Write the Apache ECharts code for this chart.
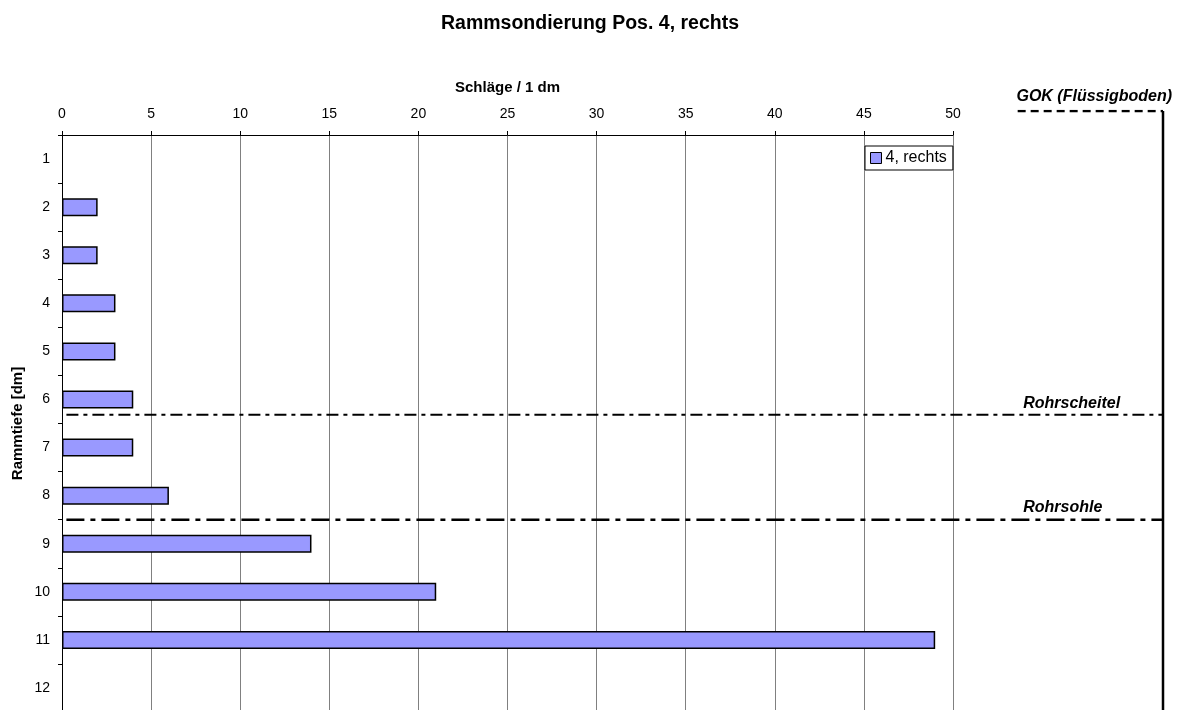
<!DOCTYPE html>
<html>
<head>
<meta charset="utf-8">
<script src="https://cdn.jsdelivr.net/npm/echarts@6/dist/echarts.min.js"></script>
<style>
  html, body { margin: 0; padding: 0; background: #fff; }
  #chart { width: 1186px; height: 710px; }
</style>
</head>
<body>
<div id="chart"></div>
<script>
  // Rammtiefe categories and blow counts per dm
  const depths = ['1', '2', '3', '4', '5', '6', '7', '8', '9', '10', '11', '12'];
  const blows = [null, 2, 2, 3, 3, 4, 4, 6, 14, 21, 49, null];

  // reference levels (depth below GOK, dm)
  const gokDepth = 0;
  const scheitelDepth = 6.32;
  const sohleDepth = 8.5;
  const depthMax = 12.5;

  const font = '"Liberation Sans", Arial, sans-serif';

  const levelLabel = (text, align, distance) => ({
    show: true, formatter: text, position: 'top', align: align,
    distance: distance, fontSize: 16, fontWeight: 'bold', fontStyle: 'italic',
    fontFamily: font, color: '#000'
  });

  const chart = echarts.init(document.getElementById('chart'));
  chart.setOption({
    animation: false,
    textStyle: { fontFamily: font, color: '#000' },
    title: {
      text: 'Rammsondierung Pos. 4, rechts',
      left: 436,
      top: 9,
      textStyle: { fontSize: 19.5, fontWeight: 'bold', fontFamily: font, color: '#000' }
    },
    legend: {
      left: 865,
      top: 146,
      padding: [4, 6, 4, 5],
      backgroundColor: '#fff',
      borderColor: '#000',
      borderWidth: 1,
      borderRadius: 0,
      icon: 'rect',
      itemWidth: 11,
      itemHeight: 11,
      itemGap: 4,
      data: ['4, rechts'],
      itemStyle: { borderColor: '#000', borderWidth: 1 },
      textStyle: { fontSize: 16, fontFamily: font, color: '#000', padding: [0, 0, 0, -1] }
    },
    grid: [
      { left: 62, top: 135, width: 891, bottom: -2, outerBoundsMode: 'none' },
      { left: 62, top: 111, right: 23, bottom: -2, outerBoundsMode: 'none' }
    ],
    xAxis: [
      {
        type: 'value',
        gridIndex: 0,
        position: 'top',
        min: 0,
        max: 50,
        interval: 5,
        name: 'Schläge / 1 dm',
        nameLocation: 'middle',
        nameGap: 40,
        nameTextStyle: { fontWeight: 'bold', fontSize: 15, fontFamily: font, color: '#000' },
        axisLine: { show: true, lineStyle: { color: '#000', width: 1 } },
        axisTick: { show: true, length: 4, lineStyle: { color: '#000' } },
        axisLabel: { fontSize: 14, margin: 14, color: '#000', fontFamily: font },
        splitLine: { show: true, lineStyle: { color: '#808080', width: 1 } }
      },
      {
        type: 'value',
        gridIndex: 1,
        min: 0,
        max: 1,
        show: false
      }
    ],
    yAxis: [
      {
        type: 'category',
        gridIndex: 0,
        inverse: true,
        data: depths,
        name: 'Rammtiefe [dm]',
        nameLocation: 'middle',
        nameGap: 37,
        nameRotate: 90,
        nameMoveOverlap: false,
        nameTextStyle: { fontWeight: 'bold', fontSize: 15, fontFamily: font, color: '#000' },
        axisLine: { show: true, lineStyle: { color: '#000', width: 1 } },
        axisTick: { show: true, length: 4, lineStyle: { color: '#000' } },
        axisLabel: { fontSize: 14, margin: 12, color: '#000', fontFamily: font },
        splitLine: { show: false }
      },
      {
        type: 'value',
        gridIndex: 1,
        inverse: true,
        min: 0,
        max: depthMax,
        show: false
      }
    ],
    series: [
      {
        name: '4, rechts',
        type: 'bar',
        xAxisIndex: 0,
        yAxisIndex: 0,
        data: blows,
        barWidth: 18,
        itemStyle: { color: '#9999FF', borderColor: '#000', borderWidth: 1.5 }
      },
      {
        name: 'Rohrscheitel',
        type: 'line',
        xAxisIndex: 1,
        yAxisIndex: 1,
        silent: true,
        symbol: 'circle',
        symbolSize: 0,
        showSymbol: true,
        lineStyle: { color: '#000', width: 2, type: [12, 5, 4, 5] },
        data: [
          [0.004, scheitelDepth],
          { value: [0.873, scheitelDepth], label: levelLabel('Rohrscheitel', 'left', 3) },
          [1, scheitelDepth]
        ]
      },
      {
        name: 'Rohrsohle',
        type: 'line',
        xAxisIndex: 1,
        yAxisIndex: 1,
        silent: true,
        symbol: 'circle',
        symbolSize: 0,
        showSymbol: true,
        lineStyle: { color: '#000', width: 2.5, type: [18, 6, 5, 6] },
        data: [
          [0.004, sohleDepth],
          { value: [0.873, sohleDepth], label: levelLabel('Rohrsohle', 'left', 4) },
          [1, sohleDepth]
        ]
      },
      {
        name: 'GOK',
        type: 'line',
        xAxisIndex: 1,
        yAxisIndex: 1,
        silent: true,
        symbol: 'circle',
        symbolSize: 0,
        showSymbol: true,
        lineStyle: { color: '#000', width: 2.5, type: [8, 5] },
        data: [
          [0.868, gokDepth],
          { value: [1, gokDepth], label: Object.assign(levelLabel('GOK (Flüssigboden)', 'right', 6), { offset: [9, 0] }) }
        ]
      },
      {
        name: 'Wand',
        type: 'line',
        xAxisIndex: 1,
        yAxisIndex: 1,
        silent: true,
        symbol: 'none',
        lineStyle: { color: '#000', width: 2.5 },
        data: [[1, gokDepth], [1, depthMax]]
      }
    ]
  });
</script>
</body>
</html>
